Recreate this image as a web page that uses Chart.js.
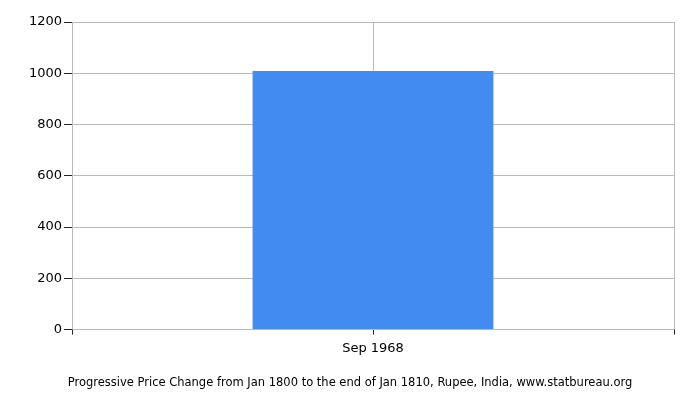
<!DOCTYPE html>
<html>
<head>
<meta charset="utf-8">
<script src="https://cdn.jsdelivr.net/npm/chart.js@4"></script>
<style>
html,body{margin:0;padding:0;background:#fff;}
#wrap{width:700px;height:400px;position:relative;}
</style>
</head>
<body>
<div id="wrap"><canvas id="c" width="700" height="400"></canvas></div>
<script>
const categories = ["Sep 1968"];
const values = [1009];
const yTicks = [0, 200, 400, 600, 800, 1000, 1200];
const titleText = "Progressive Price Change from Jan 1800 to the end of Jan 1810, Rupee, India, www.statbureau.org";

const framePlugin = {
  id: 'frame',
  afterDraw(chart) {
    const {ctx, chartArea: a} = chart;
    ctx.save();
    ctx.strokeStyle = '#bbbbbb';
    ctx.lineWidth = 1;
    ctx.beginPath();
    ctx.moveTo(Math.round(a.right) + 0.5, a.top);
    ctx.lineTo(Math.round(a.right) + 0.5, a.bottom);
    ctx.stroke();
    ctx.strokeStyle = '#222222';
    ctx.beginPath();
    ctx.moveTo(Math.round(a.right) + 0.5, a.bottom);
    ctx.lineTo(Math.round(a.right) + 0.5, a.bottom + 5);
    ctx.moveTo(Math.round(a.left) + 0.5, a.bottom);
    ctx.lineTo(Math.round(a.left) + 0.5, a.bottom + 5);
    ctx.stroke();
    ctx.restore();
  }
};

new Chart(document.getElementById('c'), {
  type: 'bar',
  data: {
    labels: categories,
    datasets: [{
      data: values,
      backgroundColor: '#428bf0',
      borderWidth: 0,
      categoryPercentage: 0.4,
      barPercentage: 1.0
    }]
  },
  options: {
    responsive: false,
    animation: false,
    devicePixelRatio: 1,
    layout: { padding: { left: 26, right: 26, top: 22, bottom: 5 } },
    plugins: {
      legend: { display: false },
      tooltip: { enabled: false },
      title: {
        display: true,
        position: 'bottom',
        text: titleText,
        color: '#000000',
        font: { family: 'DejaVu Sans', size: 11.5, weight: 'normal' },
        padding: { top: 14, bottom: 5 }
      }
    },
    scales: {
      x: {
        offset: true,
        grid: {
          offset: false,
          color: '#bbbbbb',
          tickColor: '#222222',
          tickLength: 5,
          drawOnChartArea: true
        },
        border: { color: '#bbbbbb' },
        ticks: {
          color: '#000000',
          font: { family: 'DejaVu Sans', size: 13 },
          padding: 6
        }
      },
      y: {
        min: 0,
        max: 1200,
        afterFit(scale) { scale.width = 46; },
        afterBuildTicks(scale) { scale.ticks = yTicks.map(v => ({value: v})); },
        grid: {
          color: '#bbbbbb',
          tickColor: '#222222',
          tickLength: 8
        },
        border: { color: '#bbbbbb' },
        ticks: {
          color: '#000000',
          font: { family: 'DejaVu Sans', size: 13 },
          padding: 2,
          callback: (v) => String(v)
        }
      }
    }
  },
  plugins: [framePlugin]
});
</script>
</body>
</html>
